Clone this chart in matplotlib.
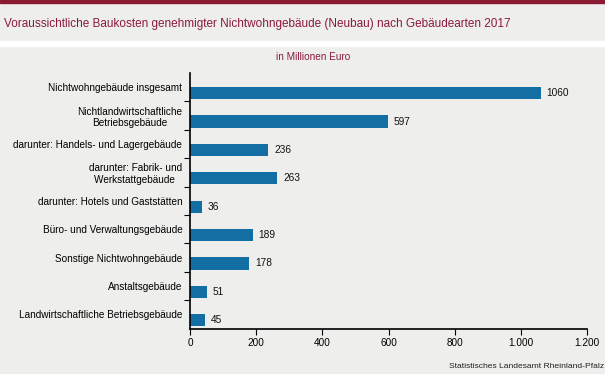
import matplotlib
matplotlib.use("Agg")
import matplotlib.pyplot as plt
from matplotlib.patches import Rectangle

plt.rcParams['font.family'] = ['Liberation Sans', 'DejaVu Sans']

categories = [
    "Nichtwohngebäude insgesamt",
    "Nichtlandwirtschaftliche\nBetriebsgebäude",
    "darunter: Handels- und Lagergebäude",
    "darunter: Fabrik- und\nWerkstattgebäude ",
    "darunter: Hotels und Gaststätten",
    "Büro- und Verwaltungsgebäude",
    "Sonstige Nichtwohngebäude",
    "Anstaltsgebäude",
    "Landwirtschaftliche Betriebsgebäude",
]
values = [1060, 597, 236, 263, 36, 189, 178, 51, 45]
xticks = [0, 200, 400, 600, 800, 1000, 1200]
xticklabels = ["0", "200", "400", "600", "800", "1.000", "1.200"]

bg = '#eeeeec'
title_col = '#8b1a3a'
bar_col = '#136fa3'

W, H = 605, 374
fig = plt.figure(figsize=(W / 100, H / 100), dpi=100, facecolor=bg)

# header decoration
fig.patches.append(Rectangle((0, 1 - 2.5 / H), 1, 2.5 / H, transform=fig.transFigure,
                             color='#8b1a33', zorder=0))
fig.patches.append(Rectangle((0, 1 - 46 / H), 1, 4.5 / H, transform=fig.transFigure,
                             color='white', zorder=0))
fig.text(4 / W, 1 - 24 / H, "Voraussichtliche Baukosten genehmigter Nichtwohngebäude (Neubau) nach Gebäudearten 2017",
         color=title_col, fontsize=8.5, va='center', ha='left')
fig.text(313 / W, 1 - 57 / H, "in Millionen Euro", color=title_col, fontsize=7.2, ha='center', va='center')
fig.text(1 - 1 / W, 1 - 366 / H, "Statistisches Landesamt Rheinland-Pfalz", color='#222222',
         fontsize=6.1, ha='right', va='center')

ax = fig.add_axes([190 / W, 1 - 328.5 / H, (587 - 190) / W, (328.5 - 73) / H])
ax.set_facecolor(bg)
slots = list(range(len(categories)))
bar_pos = [s + 0.21 for s in slots]
ax.barh(bar_pos, values, height=0.43, color=bar_col)
for yi, v in zip(bar_pos, values):
    ax.text(v + 18, yi, f"{v}", va='center', ha='left', fontsize=7.3, color='#111111')

ax.set_ylim(len(categories) - 0.5, -0.5)
ax.set_xlim(0, 1200)
ax.set_xticks(xticks)
ax.set_xticklabels(xticklabels, fontsize=7.2)
ax.set_yticks([i + 0.5 for i in range(len(categories) - 1)], minor=False)
ax.set_yticklabels([])
ax.set_yticks(slots, minor=True)
ax.set_yticklabels(categories, minor=True, fontsize=7.2, ha='right', multialignment='center')
ax.tick_params(axis='y', which='minor', length=0, pad=5.5)
ax.tick_params(axis='y', which='major', length=4, width=0.8, direction='out')
ax.tick_params(axis='x', length=4, width=0.8, direction='out', pad=3)
for s in ['top', 'right']:
    ax.spines[s].set_visible(False)
ax.spines['left'].set_linewidth(1.2)
ax.spines['bottom'].set_linewidth(1.2)

fig.savefig("out.png", dpi=100, facecolor=bg)
